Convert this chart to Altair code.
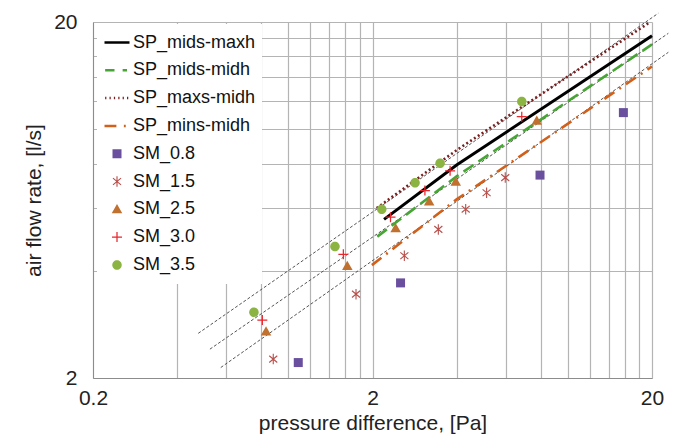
import math
import altair as alt
import pandas as pd

# ---------------- data ----------------
series_names = ["SP_mids-maxh", "SP_mids-midh", "SP_maxs-midh", "SP_mins-midh",
                "SM_0.8", "SM_1.5", "SM_2.5", "SM_3.0", "SM_3.5"]

# model lines (pressure difference [Pa], air flow rate [l/s])
mids_maxh_x = [2.2, 4.0, 20.0]
mids_maxh_y = [5.58, 7.93, 18.3]
mids_midh_x = [2.08, 4.0, 20.0]
mids_midh_y = [4.99, 7.37, 17.3]
maxs_midh_x = [2.07, 4.0, 19.7]
maxs_midh_y = [6.0, 8.73, 20.0]
mins_midh_x = [1.99, 4.0, 20.0]
mins_midh_y = [4.15, 6.35, 15.0]

# measurements
sm08_x = [1.085, 2.52, 7.95, 15.8]
sm08_y = [2.21, 3.70, 7.43, 11.13]
sm15_x = [0.883, 1.746, 2.60, 3.44, 4.31, 5.12, 5.97]
sm15_y = [2.26, 3.44, 4.41, 5.23, 5.96, 6.63, 7.31]
sm25_x = [0.832, 1.625, 2.42, 3.19, 3.97, 7.74]
sm25_y = [2.70, 4.13, 5.27, 6.26, 7.12, 10.56]
sm30_x = [0.807, 1.573, 2.32, 3.08, 3.79, 6.84]
sm30_y = [2.91, 4.45, 5.66, 6.72, 7.64, 10.84]
sm35_x = [0.753, 1.468, 2.158, 2.84, 3.49, 6.84]
sm35_y = [3.06, 4.68, 5.96, 7.07, 8.02, 11.95]

# thin dashed trend lines
trend_upper_x = [0.476, 21.06]
trend_upper_y = [2.67, 21.16]
trend_middle_x = [0.524, 22.88]
trend_middle_y = [2.41, 18.59]
trend_lower_x = [0.573, 22.88]
trend_lower_y = [2.14, 16.44]

x_grid = [0.2, 0.4, 0.6, 0.8, 1.0, 1.2, 1.4, 1.6, 1.8, 2, 4, 6, 8, 10, 12, 14, 16, 18, 20]
y_grid = [2, 4, 6, 8, 10, 12, 14, 16, 18, 20]

# ---------------- styles ----------------
FONT = "Liberation Sans"
line_colors = ["#000000", "#46a534", "#7a1f1f", "#d2601a"]
marker_colors = ["#6a4f9e", "#b9504c", "#c0702f", "#e8262c", "#8cb443"]


def bar(angle_deg, half_len, half_th):
    a = math.radians(angle_deg)
    dx, dy = math.cos(a), math.sin(a)
    nx, ny = -dy, dx
    pts = [(-half_len * dx - half_th * nx, -half_len * dy - half_th * ny),
           (half_len * dx - half_th * nx, half_len * dy - half_th * ny),
           (half_len * dx + half_th * nx, half_len * dy + half_th * ny),
           (-half_len * dx + half_th * nx, -half_len * dy + half_th * ny)]
    return "M" + "L".join(f"{px:.3f},{py:.3f}" for px, py in pts) + "Z"


shape_paths = [
    "M-1,0L1,0",
    "M-0.95,0L-0.2,0M0.45,0L0.8,0",
    "M-0.95,0L-0.85,0M-0.6,0L-0.5,0M-0.25,0L-0.15,0M0.1,0L0.2,0M0.45,0L0.55,0M0.8,0L0.9,0",
    "M-1,0L-0.05,0M0.55,0L0.7,0",
    "M-0.36,-0.36L0.36,-0.36L0.36,0.36L-0.36,0.36Z",
    bar(90, 0.42, 0.045) + bar(40, 0.42, 0.045) + bar(140, 0.42, 0.045),
    "M0,-0.42L0.42,0.32L-0.42,0.32Z",
    bar(0, 0.4, 0.05) + bar(90, 0.4, 0.05),
    "M-0.38,0A0.38,0.38,0,1,1,0.38,0A0.38,0.38,0,1,1,-0.38,0Z",
]

# ---------------- tables ----------------
pts_rows = []
for name, xs, ys in [("SM_0.8", sm08_x, sm08_y), ("SM_1.5", sm15_x, sm15_y),
                     ("SM_2.5", sm25_x, sm25_y), ("SM_3.0", sm30_x, sm30_y),
                     ("SM_3.5", sm35_x, sm35_y)]:
    for xv, yv in zip(xs, ys):
        pts_rows.append({"series": name, "x": xv, "y": yv})
pts_df = pd.DataFrame(pts_rows)

trend_rows = []
for tid, xs, ys in [("upper", trend_upper_x, trend_upper_y),
                    ("middle", trend_middle_x, trend_middle_y),
                    ("lower", trend_lower_x, trend_lower_y)]:
    for xv, yv in zip(xs, ys):
        trend_rows.append({"id": tid, "x": xv, "y": yv})
trend_df = pd.DataFrame(trend_rows)

x_enc = alt.X("x:Q", scale=alt.Scale(type="log", domain=[0.2, 20], nice=False),
              axis=alt.Axis(values=x_grid, format="~g",
                            labelExpr="(datum.value == 0.2 || datum.value == 2 || datum.value == 20) ? datum.label : ''",
                            labelOverlap=False, labelFlush=False, labelBound=False,
                            labelPadding=9, ticks=False,
                            title="pressure difference, [Pa]", titlePadding=4))
y_enc = alt.Y("y:Q", scale=alt.Scale(type="log", domain=[2, 20], nice=False),
              axis=alt.Axis(values=y_grid, format="~g",
                            labelExpr="(datum.value == 2 || datum.value == 20) ? datum.label : ''",
                            labelOverlap=False, labelFlush=False, labelBound=False,
                            labelPadding=16, ticks=False,
                            title="air flow rate, [l/s]", titlePadding=9))

trend = alt.Chart(trend_df).mark_line(color="#555555", strokeWidth=1, strokeDash=[3, 2]).encode(
    x=x_enc, y=y_enc, detail="id:N")

line_specs = [
    (mids_maxh_x, mids_maxh_y, line_colors[0], [], 3),
    (mids_midh_x, mids_midh_y, line_colors[1], [12, 6], 2.6),
    (maxs_midh_x, maxs_midh_y, line_colors[2], [2, 2.6], 2.6),
    (mins_midh_x, mins_midh_y, line_colors[3], [12, 6, 2, 6], 2.6),
]
line_layers = []
for xs, ys, col, dash, w in line_specs:
    df = pd.DataFrame({"x": xs, "y": ys})
    kw = dict(color=col, strokeWidth=w)
    if dash:
        kw["strokeDash"] = dash
    line_layers.append(alt.Chart(df).mark_line(**kw).encode(x="x:Q", y="y:Q"))

legend = alt.Legend(orient="none", legendX=4, legendY=2, title=None,
                    fillColor="white", padding=6, symbolSize=625, clipHeight=25,
                    rowPadding=2.8, labelFont=FONT, labelFontSize=18, labelColor="#111111",
                    labelOffset=2, labelLimit=300, symbolStrokeWidth=2.5)

points = alt.Chart(pts_df).mark_point(filled=True, size=625, opacity=1).encode(
    x="x:Q", y="y:Q",
    shape=alt.Shape("series:N", scale=alt.Scale(domain=series_names, range=shape_paths), legend=legend),
    fill=alt.Fill("series:N", scale=alt.Scale(domain=series_names,
                                              range=["transparent"] * 4 + marker_colors), legend=legend),
    stroke=alt.Stroke("series:N", scale=alt.Scale(domain=series_names,
                                                  range=line_colors + ["transparent"] * 5), legend=legend),
)

chart = alt.layer(trend, *line_layers, points).properties(
    width=559, height=356,
    padding={"left": 93, "top": 22, "right": 27, "bottom": 61},
    autosize=alt.AutoSizeParams(type="none"),
    background="white",
).configure_view(stroke=None).configure_axis(
    domainColor="#8c8c8c", domainWidth=1,
    gridColor="#b4b4b4", gridWidth=1.2,
    labelFont=FONT, labelFontSize=21, labelColor="#222222",
    titleFont=FONT, titleFontSize=21, titleFontWeight="normal", titleColor="#222222",
)

chart.save("out.html", embed_options={"renderer": "svg", "actions": False})
